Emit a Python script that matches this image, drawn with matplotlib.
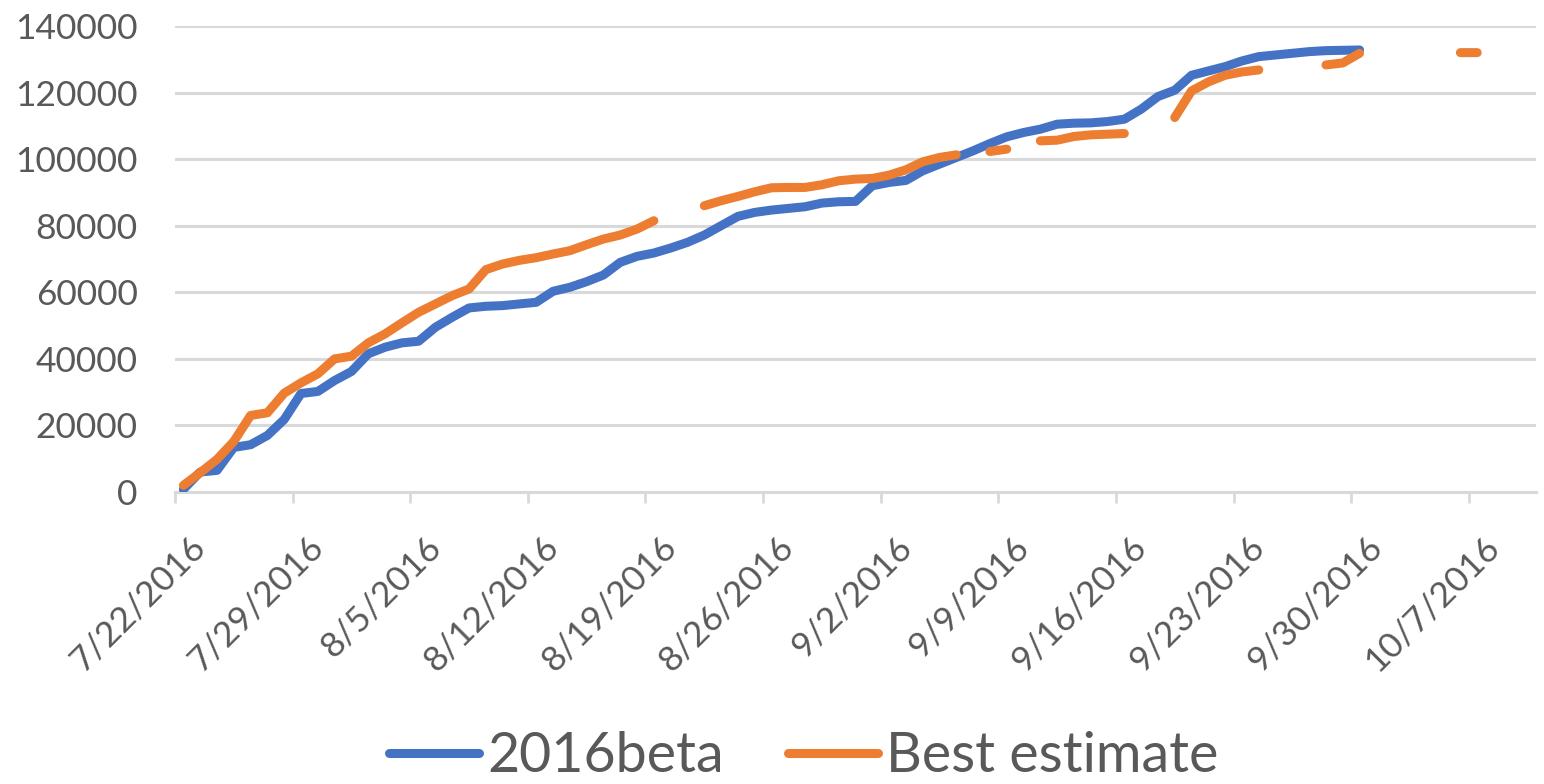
import numpy as np
import pandas as pd
import matplotlib
matplotlib.use('Agg')
import matplotlib.pyplot as plt
import matplotlib.dates as mdates
from matplotlib.transforms import ScaledTranslation

# ── Data (daily) ──────────────────────────────────────────────────────────────
start_date = '2016-07-22'
n_days = 81                       # axis runs 7/22 .. 10/10 (one slot per day)

beta_2016 = [
    800, 6000, 6500, 13400, 14200, 17000, 21800, 29600, 30200, 33500,
    36200, 41500, 43500, 44800, 45300, 49500, 52500, 55300, 55800, 56000,
    56500, 57000, 60300, 61500, 63200, 65200, 69000, 70800, 71800, 73300,
    75000, 77200, 80000, 82800, 84000, 84700, 85200, 85700, 86800, 87200,
    87300, 92000, 93000, 93600, 96500, 98500, 100500, 102500, 104700, 106700,
    108000, 109000, 110500, 110800, 110900, 111300, 112000, 115000, 118800, 120700,
    125200, 126500, 127800, 129500, 130800, 131300, 131800, 132300, 132600, 132700,
    132800,
]

nan = np.nan
best_estimate = [
    2000, 5800, 9800, 15200, 23000, 23800, 29700, 32800, 35500, 40000,
    40800, 44800, 47500, 50800, 54000, 56500, 59000, 61000, 66800, 68500,
    69600, 70400, 71500, 72500, 74300, 76000, 77200, 79000, 81500, nan,
    nan, 86000, 87500, 88800, 90200, 91400, 91500, 91500, 92300, 93500,
    94000, 94200, 95200, 96800, 99200, 100500, 101300, nan, 102300, 103000,
    nan, 105500, 105700, 106800, 107300, 107500, 107700, nan, nan, 112500,
    120500, 123200, 125200, 126200, 126800, nan, nan, nan, 128300, 128900,
    131800, nan, nan, nan, nan, nan, 132000, 132000,
]

series_names = ['2016beta', 'Best estimate']

# ── Style ─────────────────────────────────────────────────────────────────────
BLUE = '#4472C4'
ORANGE = '#ED7D31'
GRID = '#D9D9D9'
TEXT = '#595959'
FONT = ['Lato', 'DejaVu Sans']
plt.rcParams['font.family'] = FONT

days = pd.date_range(start_date, periods=n_days, freq='D')
# Excel date axis "between tick marks": each point sits mid-slot
x_beta = days[:len(beta_2016)] + pd.Timedelta(hours=12)
x_best = days[:len(best_estimate)] + pd.Timedelta(hours=12)

W, H = 1544, 784
fig = plt.figure(figsize=(W / 100, H / 100), dpi=100)
fig.patch.set_facecolor('white')
ax = fig.add_axes([175 / W, 1 - 492 / H, (1536 - 175) / W, (492 - 26) / H])

line_kw = dict(lw=6.5, solid_capstyle='round', solid_joinstyle='round')
ax.plot(x_beta, beta_2016, color=BLUE, label=series_names[0], zorder=3, **line_kw)
ax.plot(x_best, best_estimate, color=ORANGE, label=series_names[1], zorder=4, **line_kw)

# ── Axes ──────────────────────────────────────────────────────────────────────
ax.set_xlim(days[0], days[0] + pd.Timedelta(days=n_days))
ax.set_ylim(0, 140000)
ax.set_yticks(np.arange(0, 140001, 20000))
ax.grid(axis='y', color=GRID, lw=2.2, zorder=0)
ax.set_axisbelow(True)

for s in ('top', 'right', 'left'):
    ax.spines[s].set_visible(False)
ax.spines['bottom'].set_color(GRID)
ax.spines['bottom'].set_linewidth(2.2)

tick_days = days[::7]
ax.set_xticks(tick_days)
ax.set_xticklabels([f'{d.month}/{d.day}/{d.year}' for d in tick_days])
ax.tick_params(axis='x', length=8, width=2, color=GRID, pad=20,
               labelsize=25.5, labelcolor=TEXT)
ax.tick_params(axis='y', length=0, pad=27, labelsize=25.5, labelcolor=TEXT)

shift = ScaledTranslation(14 / 100, 0, fig.dpi_scale_trans)
for lab in ax.get_xticklabels():
    lab.set_rotation(45)
    lab.set_ha('right')
    lab.set_va('top')
    lab.set_rotation_mode('anchor')
    lab.set_transform(lab.get_transform() + shift)

leg = fig.legend(loc='center', bbox_to_anchor=(804 / W, 1 - 757 / H), ncol=2,
                 frameon=False, fontsize=40, handlelength=1.62,
                 handletextpad=0.15, columnspacing=1.15)
for t in leg.get_texts():
    t.set_color(TEXT)

fig.savefig('out.png', dpi=100)
